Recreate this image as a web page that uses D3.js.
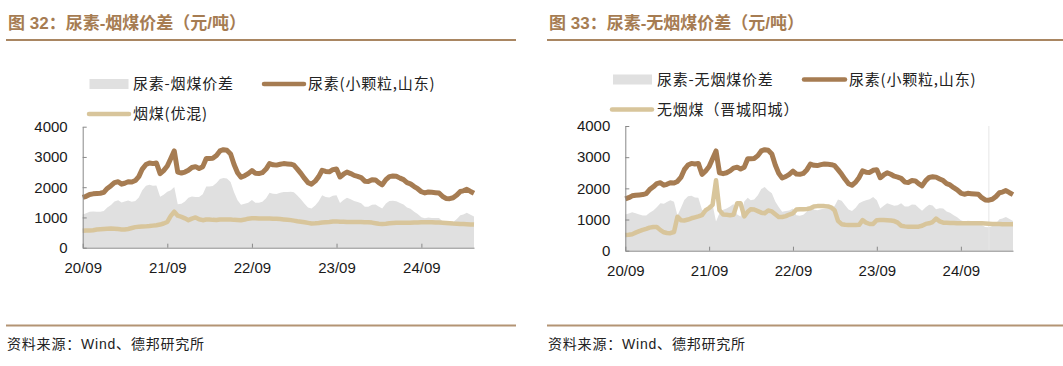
<!DOCTYPE html>
<html>
<head>
<meta charset="utf-8">
<script src="https://cdn.jsdelivr.net/npm/d3@7"></script>
<style>
  body { margin: 0; background: #fff; }
  svg { display: block; }
</style>
</head>
<body>
<div id="chart"></div>
<script>
// half-monthly observations, Sep 2020 - Apr 2025
var dates = [
  "2020-09-01","2020-09-16","2020-10-01","2020-10-16","2020-11-01","2020-11-16","2020-12-01","2020-12-16",
  "2021-01-01","2021-01-16","2021-02-01","2021-02-16","2021-03-01","2021-03-16","2021-04-01","2021-04-16",
  "2021-05-01","2021-05-16","2021-06-01","2021-06-16","2021-07-01","2021-07-16","2021-08-01","2021-08-16",
  "2021-09-01","2021-09-16","2021-10-01","2021-10-16","2021-11-01","2021-11-16","2021-12-01","2021-12-16",
  "2022-01-01","2022-01-16","2022-02-01","2022-02-16","2022-03-01","2022-03-16","2022-04-01","2022-04-16",
  "2022-05-01","2022-05-16","2022-06-01","2022-06-16","2022-07-01","2022-07-16","2022-08-01","2022-08-16",
  "2022-09-01","2022-09-16","2022-10-01","2022-10-16","2022-11-01","2022-11-16","2022-12-01","2022-12-16",
  "2023-01-01","2023-01-16","2023-02-01","2023-02-16","2023-03-01","2023-03-16","2023-04-01","2023-04-16",
  "2023-05-01","2023-05-16","2023-06-01","2023-06-16","2023-07-01","2023-07-16","2023-08-01","2023-08-16",
  "2023-09-01","2023-09-16","2023-10-01","2023-10-16","2023-11-01","2023-11-16","2023-12-01","2023-12-16",
  "2024-01-01","2024-01-16","2024-02-01","2024-02-16","2024-03-01","2024-03-16","2024-04-01","2024-04-16",
  "2024-05-01","2024-05-16","2024-06-01","2024-06-16","2024-07-01","2024-07-16","2024-08-01","2024-08-16",
  "2024-09-01","2024-09-16","2024-10-01","2024-10-16","2024-11-01","2024-11-16","2024-12-01","2024-12-16",
  "2025-01-01","2025-01-16","2025-02-01","2025-02-16","2025-03-01","2025-03-16","2025-04-01","2025-04-16"
];

// 尿素(小颗粒,山东)
var urea = [
  1660,1700,1760,1780,1790,1800,1830,1960,2050,2150,2180,2100,2130,2180,2170,2220,
  2350,2600,2750,2800,2780,2800,2450,2550,2700,2950,3200,2500,2470,2500,2560,2650,
  2680,2620,2680,2950,2950,2960,3050,3200,3240,3220,3100,2750,2480,2330,2380,2450,
  2550,2460,2450,2480,2600,2780,2740,2730,2760,2780,2770,2760,2730,2600,2450,2290,
  2150,2100,2200,2350,2560,2520,2510,2580,2600,2340,2430,2500,2450,2390,2360,2320,
  2200,2190,2250,2240,2150,2080,2250,2350,2370,2360,2300,2250,2150,2110,2020,1950,
  1850,1810,1840,1830,1820,1810,1700,1630,1620,1650,1740,1860,1880,1930,1860,1800
];

// 烟煤(优混)
var bitCoal = [
  560,565,570,580,600,610,620,630,635,625,615,605,605,620,650,680,
  690,700,705,715,730,745,765,800,850,1050,1190,1060,1020,970,910,960,
  1000,940,910,930,930,920,915,930,935,935,930,920,915,910,930,960,
  970,970,965,965,965,965,960,955,945,935,925,912,895,875,860,840,
  820,800,805,815,830,840,850,865,870,860,855,850,850,850,850,850,
  845,840,830,810,790,785,790,805,815,825,825,825,825,825,830,835,
  840,840,845,845,835,830,825,820,810,800,795,785,780,775,770,765
];

// 尿素-烟煤价差
var bitSpread = [
  1100,1135,1190,1200,1190,1190,1210,1330,1415,1525,1565,1495,1525,1560,1520,1540,
  1660,1900,2045,2085,2050,2055,1685,1750,1850,1900,2010,1440,1450,1530,1650,1690,
  1680,1680,1770,2020,2020,2040,2135,2270,2305,2285,2170,1830,1565,1420,1450,1490,
  1580,1490,1485,1515,1635,1815,1780,1775,1815,1845,1845,1848,1835,1725,1590,1450,
  1330,1300,1395,1535,1730,1680,1660,1715,1730,1480,1575,1650,1600,1540,1510,1470,
  1355,1350,1420,1430,1360,1295,1460,1545,1555,1535,1475,1425,1325,1285,1190,1115,
  1010,970,995,985,985,980,875,810,810,850,945,1075,1100,1155,1090,1035
];

// 无烟煤（晋城阳城）
var anthracite = [
  500,510,530,580,630,670,700,740,760,760,660,590,570,560,600,1090,
  980,970,1000,1040,1070,1100,1140,1290,1370,1470,2260,1300,1160,1150,1140,1150,
  1520,1520,1100,1250,1330,1320,1270,1220,1200,1290,1260,1170,1080,1080,1110,1160,
  1200,1320,1330,1330,1340,1360,1420,1430,1430,1430,1420,1380,1300,960,850,830,
  825,825,825,830,980,900,856,860,980,985,985,980,970,950,900,800,
  780,770,770,770,770,800,860,880,920,1030,940,900,895,890,885,880,
  877,877,877,877,877,877,877,870,865,860,856,855,850,848,845,845
];

// 尿素-无烟煤价差
var anthSpread = [
  1160,1190,1230,1200,1160,1130,1130,1220,1290,1390,1520,1510,1560,1620,1570,1130,
  1370,1630,1750,1760,1710,1700,1310,1260,1330,1480,940,1200,1310,1350,1420,1500,
  1160,1100,1580,1700,1620,1640,1780,1980,2040,1930,1840,1580,1400,1250,1270,1290,
  1350,1140,1120,1150,1260,1420,1320,1300,1330,1350,1350,1380,1430,1640,1600,1460,
  1325,1275,1375,1520,1580,1620,1654,1720,1620,1355,1445,1520,1480,1440,1460,1520,
  1420,1420,1480,1470,1380,1280,1390,1470,1450,1330,1360,1350,1255,1220,1135,1070,
  973,933,963,953,943,933,823,760,755,790,884,1005,1030,1082,1015,955
];

var tickDates = ["2020-09-01","2021-09-01","2022-09-01","2023-09-01","2024-09-01"];
var tickLabels = ["20/09","21/09","22/09","23/09","24/09"];
var yTicks = [0, 1000, 2000, 3000, 4000];
var markDate = "2025-01-01";

var parse = d3.timeParse("%Y-%m-%d");
var brown = "#a67c52";
var tan = "#d8c59b";
var grey = "#e0e0e0";
var latin = "'Liberation Sans', Arial, 'Noto Sans CJK SC', sans-serif";
var cjk = "'Noto Sans CJK SC', sans-serif";

var svg = d3.select("#chart").append("svg")
  .attr("width", 1063)
  .attr("height", 366);

var panels = [
  {
    title: "图 32：尿素-烟煤价差（元/吨）",
    ruleX: [6, 516], titleX: 8,
    xRange: [82.7, 474], yRange: [247.7, 126.7],
    spread: bitSpread, coal: bitCoal,
    names: ["尿素-烟煤价差", "尿素(小颗粒,山东)", "烟煤(优混)"],
    leg: { y1: 84, y2: 114, sw: [89.5, 128.5], br: [264, 304], tn: [89, 129], t1: 133, t2: 308, t3: 133 },
    mark: false
  },
  {
    title: "图 33：尿素-无烟煤价差（元/吨）",
    ruleX: [547, 1063], titleX: 549,
    xRange: [625.3, 1013], yRange: [250.7, 126],
    spread: anthSpread, coal: anthracite,
    names: ["尿素-无烟煤价差", "尿素(小颗粒,山东)", "无烟煤（晋城阳城）"],
    leg: { y1: 79.5, y2: 109.5, sw: [613, 652], br: [804, 845], tn: [612, 652], t1: 657, t2: 849, t3: 657 },
    mark: true
  }
];

panels.forEach(function (p) {
  var g = svg.append("g");

  // header
  g.append("text")
    .attr("x", p.titleX).attr("y", 29)
    .attr("font-family", latin).attr("font-size", 17).attr("font-weight", "bold")
    .attr("fill", brown)
    .text(p.title);
  g.append("line")
    .attr("x1", p.ruleX[0]).attr("x2", p.ruleX[1]).attr("y1", 40).attr("y2", 40)
    .attr("stroke", "#a98662").attr("stroke-width", 2);

  // footer
  g.append("line")
    .attr("x1", p.ruleX[0]).attr("x2", p.ruleX[1]).attr("y1", 325.5).attr("y2", 325.5)
    .attr("stroke", "#b39474").attr("stroke-width", 2);
  g.append("text")
    .attr("x", p.titleX - 1).attr("y", 349)
    .attr("font-family", latin).attr("font-size", 14).attr("letter-spacing", 0.8)
    .attr("fill", "#222")
    .text("资料来源：Wind、德邦研究所");

  // legend
  var L = p.leg;
  g.append("rect")
    .attr("x", L.sw[0]).attr("y", L.y1 - 5).attr("width", L.sw[1] - L.sw[0]).attr("height", 10)
    .attr("fill", grey);
  g.append("line")
    .attr("x1", L.br[0]).attr("x2", L.br[1]).attr("y1", L.y1).attr("y2", L.y1)
    .attr("stroke", brown).attr("stroke-width", 4.5).attr("stroke-linecap", "round");
  g.append("line")
    .attr("x1", L.tn[0]).attr("x2", L.tn[1]).attr("y1", L.y2).attr("y2", L.y2)
    .attr("stroke", tan).attr("stroke-width", 4.5).attr("stroke-linecap", "round");
  [[p.names[0], L.t1, L.y1], [p.names[1], L.t2, L.y1], [p.names[2], L.t3, L.y2]].forEach(function (t) {
    g.append("text")
      .attr("x", t[1]).attr("y", t[2]).attr("dy", "0.36em")
      .attr("font-family", cjk).attr("font-size", 15).attr("letter-spacing", 0.8)
      .attr("fill", "#222")
      .text(t[0]);
  });

  // scales
  var x = d3.scaleTime()
    .domain([parse(dates[0]), parse(dates[dates.length - 1])])
    .range(p.xRange);
  var y = d3.scaleLinear().domain([0, 4000]).range(p.yRange);

  // spread area
  var area = d3.area()
    .x(function (d, i) { return x(parse(dates[i])); })
    .y0(y(0))
    .y1(function (d) { return y(d); });
  g.append("path").datum(p.spread)
    .attr("d", area)
    .attr("fill", grey);

  if (p.mark) {
    g.append("line")
      .attr("x1", x(parse(markDate))).attr("x2", x(parse(markDate)))
      .attr("y1", y(4000)).attr("y2", y(0))
      .attr("stroke", "#e6e6e6").attr("stroke-width", 1);
  }

  var line = d3.line()
    .x(function (d, i) { return x(parse(dates[i])); })
    .y(function (d) { return y(d); });
  g.append("path").datum(p.coal)
    .attr("d", line)
    .attr("fill", "none").attr("stroke", tan).attr("stroke-width", 4.5)
    .attr("stroke-linejoin", "round");
  g.append("path").datum(urea)
    .attr("d", line)
    .attr("fill", "none").attr("stroke", brown).attr("stroke-width", 5)
    .attr("stroke-linejoin", "round");

  // axes
  var yAxis = g.append("g")
    .attr("transform", "translate(" + p.xRange[0] + ",0)")
    .call(d3.axisLeft(y).tickValues(yTicks).tickFormat(d3.format("d"))
      .tickSizeInner(-4).tickSizeOuter(0).tickPadding(15));
  var xAxis = g.append("g")
    .attr("transform", "translate(0," + p.yRange[0] + ")")
    .call(d3.axisBottom(x)
      .tickValues(tickDates.map(parse))
      .tickFormat(function (d, i) { return tickLabels[i]; })
      .tickSizeInner(-4).tickSizeOuter(0).tickPadding(15));
  [yAxis, xAxis].forEach(function (a) {
    a.select(".domain").attr("stroke", "#888");
    a.selectAll(".tick line").attr("stroke", "#888");
    a.selectAll("text")
      .attr("font-family", latin).attr("font-size", 15).attr("fill", "#1a1a1a");
  });
});
</script>
</body>
</html>
